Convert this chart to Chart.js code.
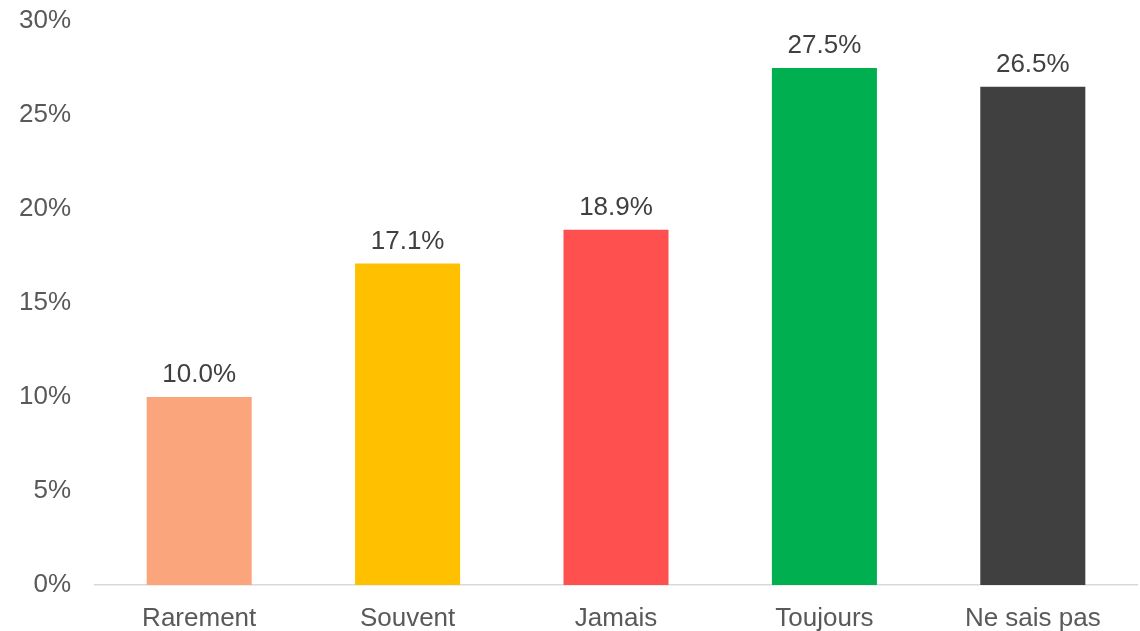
<!DOCTYPE html>
<html><head><meta charset="utf-8">
<script src="https://cdn.jsdelivr.net/npm/chart.js@4/dist/chart.umd.min.js"></script>
<style>html,body{margin:0;padding:0;background:#fff}#wrap{width:1140px;height:631px}</style>
</head><body><div id="wrap"><canvas id="c" width="1140" height="631"></canvas></div>
<script>
const categories = ["Rarement", "Souvent", "Jamais", "Toujours", "Ne sais pas"];
const values = [10.0, 17.1, 18.9, 27.5, 26.5];
const barColors = ["#FBA57D", "#FFC000", "#FF5050", "#00B050", "#404040"];
const yTicks = [0, 5, 10, 15, 20, 25, 30];

const FONT = "'Liberation Sans', Arial, sans-serif";

const labelPlugin = {
  id: 'barLabels',
  afterDatasetsDraw(chart) {
    const ctx = chart.ctx;
    const meta = chart.getDatasetMeta(0);
    ctx.save();
    ctx.font = "26px " + FONT;
    ctx.fillStyle = "#404040";
    ctx.textAlign = "center";
    ctx.textBaseline = "middle";
    meta.data.forEach((bar, i) => {
      ctx.fillText(values[i].toFixed(1) + "%", bar.x, bar.y - 22);
    });
    ctx.restore();
  }
};

new Chart(document.getElementById('c'), {
  type: 'bar',
  data: {
    labels: categories,
    datasets: [{
      data: values,
      backgroundColor: barColors,
      borderWidth: 0,
      categoryPercentage: 1.0,
      barPercentage: 0.504
    }]
  },
  options: {
    responsive: false,
    animation: false,
    events: [],
    layout: { padding: { top: 21, right: 3, left: 0, bottom: 0 } },
    plugins: { legend: { display: false }, tooltip: { enabled: false } },
    scales: {
      x: {
        afterFit(scale) { scale.height = 46; scale.paddingLeft = 0; scale.paddingRight = 0; },
        grid: { display: false, drawTicks: false },
        border: { display: true, color: '#d9d9d9', width: 1.5 },
        ticks: { color: '#595959', font: { size: 26, family: FONT }, padding: 18, maxRotation: 0 }
      },
      y: {
        min: 0, max: 30,
        afterFit(scale) { scale.width = 95; scale.paddingTop = 0; scale.paddingBottom = 0; },
        afterBuildTicks(scale) { scale.ticks = yTicks.map(v => ({ value: v })); },
        grid: { display: false, drawTicks: false },
        border: { display: false },
        ticks: {
          color: '#595959', font: { size: 26, family: FONT }, padding: 24,
          callback: (v) => v + "%"
        }
      }
    }
  },
  plugins: [labelPlugin]
});
</script>
</body></html>
